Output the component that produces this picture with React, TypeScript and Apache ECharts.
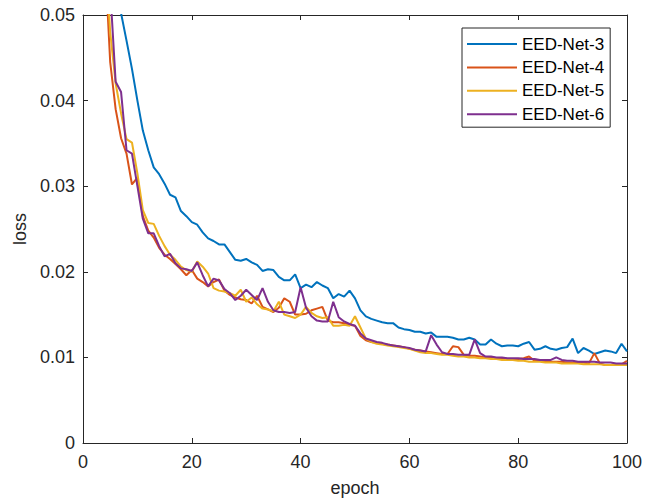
import React, { useEffect, useRef } from "react";
import * as echarts from "echarts";

const epochs: number[] = Array.from({ length: 100 }, (_, i) => i + 1);

const net3: number[] = [
  0.2, 0.13, 0.095, 0.075, 0.063, 0.056, 0.0502, 0.047, 0.0437, 0.04,
  0.0365, 0.0342, 0.0322, 0.0314, 0.0303, 0.029, 0.0287, 0.0271, 0.0265, 0.0258,
  0.0255, 0.0246, 0.0239, 0.0236, 0.0232, 0.0232, 0.0223, 0.0214, 0.0213, 0.0215,
  0.0211, 0.0208, 0.0201, 0.0203, 0.0202, 0.0194, 0.019, 0.019, 0.0197, 0.0181,
  0.0185, 0.0182, 0.0188, 0.0184, 0.0181, 0.0169, 0.0174, 0.0171, 0.0178, 0.0169,
  0.0155, 0.0148, 0.0145, 0.0143, 0.0141, 0.014, 0.014, 0.0135, 0.0133, 0.0132,
  0.013, 0.013, 0.0128, 0.0129, 0.0124, 0.0124, 0.0124, 0.0123, 0.0121, 0.0121,
  0.0123, 0.0121, 0.0115, 0.0115, 0.0121, 0.0116, 0.0113, 0.0114, 0.0114, 0.0113,
  0.0116, 0.0118, 0.0109, 0.011, 0.0113, 0.011, 0.0109, 0.0111, 0.0112, 0.0122,
  0.0105, 0.0111, 0.0108, 0.0104, 0.0106, 0.0108, 0.0107, 0.0105, 0.0116, 0.0107,
];

const net4: number[] = [
  0.13, 0.095, 0.072, 0.057, 0.0445, 0.039, 0.0356, 0.0338, 0.0302, 0.031,
  0.0265, 0.0248, 0.024, 0.0228, 0.022, 0.0215, 0.0209, 0.0203, 0.0196, 0.0202,
  0.0192, 0.0188, 0.0183, 0.0188, 0.0191, 0.0178, 0.0173, 0.017, 0.0168, 0.0167,
  0.0163, 0.0172, 0.0159, 0.0156, 0.0153, 0.0158, 0.0169, 0.0165, 0.015, 0.015,
  0.0151, 0.0155, 0.0157, 0.0159, 0.0143, 0.0141, 0.0141, 0.014, 0.0138, 0.0137,
  0.0125, 0.012, 0.0118, 0.0117, 0.0116, 0.0115, 0.0114, 0.0113, 0.0112, 0.011,
  0.0109, 0.0108, 0.0107, 0.0106, 0.0105, 0.0104, 0.0104, 0.0113, 0.0112, 0.0103,
  0.0102, 0.0102, 0.0101, 0.01, 0.01, 0.0099, 0.0099, 0.0098, 0.0098, 0.0098,
  0.0099, 0.0101, 0.0096, 0.0096, 0.0095, 0.0095, 0.0095, 0.0095, 0.0094, 0.0094,
  0.0094, 0.0094, 0.0093, 0.0105, 0.0093, 0.0091, 0.0091, 0.0092, 0.0092, 0.0096,
];

const net5: number[] = [
  0.13, 0.095, 0.072, 0.058, 0.048, 0.042, 0.0385, 0.0355, 0.0351, 0.0315,
  0.0272, 0.0257, 0.0256, 0.0242, 0.023, 0.022, 0.0214, 0.0206, 0.0202, 0.02,
  0.0212, 0.0206, 0.0198, 0.0181, 0.0178, 0.0177, 0.0175, 0.0172, 0.0179, 0.0165,
  0.017, 0.0162, 0.0157, 0.0156, 0.0154, 0.0165, 0.015, 0.0148, 0.0146, 0.015,
  0.0159, 0.0152, 0.0148, 0.0146, 0.0147, 0.0137, 0.0137, 0.0138, 0.0137, 0.0148,
  0.0135, 0.0122, 0.0118, 0.0116, 0.0115, 0.0114, 0.0113, 0.0112, 0.0111, 0.011,
  0.0108, 0.0106, 0.0105, 0.0105, 0.0104, 0.0103, 0.0103, 0.0102, 0.0101, 0.0101,
  0.01, 0.01, 0.0099, 0.0099, 0.0098, 0.0098, 0.0097, 0.0097, 0.0097, 0.0096,
  0.0096, 0.0095, 0.0095, 0.0095, 0.0094, 0.0094, 0.0094, 0.0093, 0.0093, 0.0093,
  0.0093, 0.0092, 0.0092, 0.0092, 0.0092, 0.0091, 0.0091, 0.0091, 0.0091, 0.0091,
];

const net6: number[] = [
  0.14, 0.1, 0.078, 0.063, 0.053, 0.0422, 0.041, 0.0342, 0.0338, 0.03,
  0.0262, 0.0245, 0.0245, 0.023, 0.0218, 0.0221, 0.021, 0.0204, 0.0203, 0.0201,
  0.0211, 0.0196, 0.0183, 0.0192, 0.019, 0.018, 0.0175, 0.0167, 0.0172, 0.0179,
  0.0173, 0.0167, 0.0181, 0.0165, 0.0155, 0.0153, 0.0153, 0.0152, 0.0153, 0.0182,
  0.0158, 0.0148, 0.0143, 0.0142, 0.0142, 0.0165, 0.0147, 0.0142, 0.0139, 0.0137,
  0.0128, 0.0122, 0.012, 0.0118, 0.0117, 0.0115, 0.0114, 0.0113, 0.0112, 0.0111,
  0.0109, 0.0108, 0.0107, 0.0126, 0.0115, 0.0106, 0.0104, 0.0104, 0.0103, 0.0103,
  0.0103, 0.0121, 0.0105, 0.0101, 0.0101, 0.01, 0.01, 0.0099, 0.0099, 0.0099,
  0.0098, 0.0098, 0.0098, 0.0097, 0.0097, 0.0097, 0.01, 0.0097, 0.0096, 0.0096,
  0.0095, 0.0095, 0.0095, 0.0095, 0.0094, 0.0094, 0.0094, 0.0093, 0.0093, 0.0093,
];

const seriesNames: string[] = ["EED-Net-3", "EED-Net-4", "EED-Net-5", "EED-Net-6"];
const seriesValues: number[][] = [net3, net4, net5, net6];
const seriesColors: string[] = ["#0072BD", "#D95319", "#EDB120", "#7E2F8E"];

const FONT = "'Liberation Sans', Arial, Helvetica, sans-serif";
const AX = "#262626";

export default function App() {
  const ref = useRef<HTMLDivElement>(null);
  useEffect(() => {
    if (!ref.current) return;
    document.body.style.margin = "0";
    const chart = echarts.init(ref.current, null, { renderer: "svg" });
    const axisCommon = {
      axisLine: { show: true, onZero: false, lineStyle: { color: AX, width: 1 } },
      axisTick: { show: true, inside: true, length: 5, lineStyle: { color: AX, width: 1 } },
      splitLine: { show: false },
    };
    chart.setOption({
      animation: false,
      backgroundColor: "#fff",
      textStyle: { fontFamily: FONT },
      grid: {
        left: 83,
        right: 30,
        top: 15,
        bottom: 59,
        containLabel: false,
        outerBoundsMode: "none",
      },
      legend: {
        orient: "vertical",
        left: 462,
        top: 28,
        data: seriesNames,
        icon: "rect",
        itemWidth: 50,
        itemHeight: 2,
        itemGap: 5.4,
        padding: [7, 6, 4, 5],
        borderColor: AX,
        borderWidth: 1,
        backgroundColor: "#fff",
        textStyle: { fontFamily: FONT, fontSize: 17, color: "#000", lineHeight: 18 },
      },
      xAxis: [
        {
          type: "value",
          min: 0,
          max: 100,
          interval: 20,
          position: "bottom",
          name: "epoch",
          nameLocation: "middle",
          nameGap: 36,
          nameTextStyle: { fontFamily: FONT, fontSize: 18, color: AX },
          axisLabel: { fontFamily: FONT, fontSize: 18, color: AX, margin: 10 },
          ...axisCommon,
        },
        {
          type: "value",
          min: 0,
          max: 100,
          interval: 20,
          position: "top",
          axisLabel: { show: false },
          ...axisCommon,
        },
      ],
      yAxis: [
        {
          type: "value",
          min: 0,
          max: 0.05,
          interval: 0.01,
          position: "left",
          name: "loss",
          nameLocation: "middle",
          nameGap: 53,
          nameTextStyle: { fontFamily: FONT, fontSize: 18, color: AX },
          axisLabel: { fontFamily: FONT, fontSize: 18, color: AX, margin: 8 },
          ...axisCommon,
        },
        {
          type: "value",
          min: 0,
          max: 0.05,
          interval: 0.01,
          position: "right",
          axisLabel: { show: false },
          ...axisCommon,
        },
      ],
      series: seriesNames.map((name, k) => ({
        name,
        type: "line",
        xAxisIndex: 0,
        yAxisIndex: 0,
        data: epochs.map((e, i) => [e, seriesValues[k][i]]),
        symbol: "none",
        clip: true,
        lineStyle: { color: seriesColors[k], width: 2 },
        itemStyle: { color: seriesColors[k] },
        z: 2 + k,
      })),
    });
    return () => chart.dispose();
  }, []);
  return <div ref={ref} style={{ width: 657, height: 502 }} />;
}
